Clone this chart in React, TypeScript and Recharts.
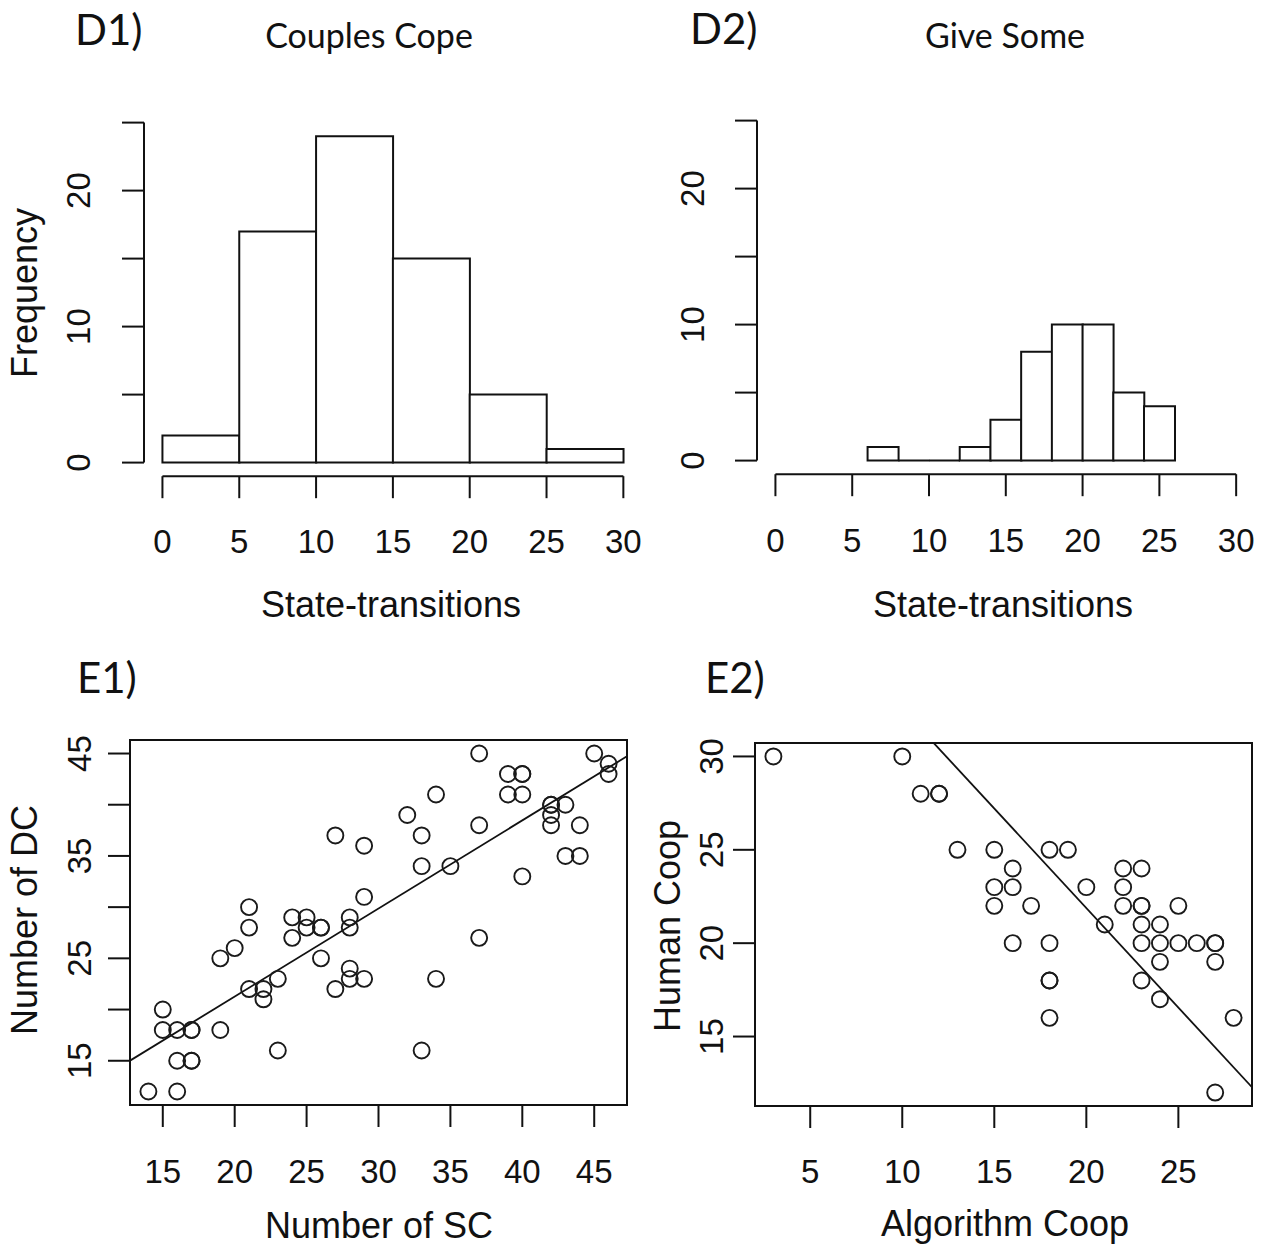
import React from "react";
import {
  ComposedChart,
  ScatterChart,
  Bar,
  Scatter,
  XAxis,
  YAxis,
  ReferenceLine,
  ReferenceArea,
} from "recharts";

const INK = "#111";
const AXIS_FONT = "'Liberation Sans', Arial, sans-serif";
const TITLE_FONT = "Lato, 'Open Sans', sans-serif";

// D1) Couples Cope - state-transitions, bins of width 5
const d1Starts = [0, 5, 10, 15, 20, 25];
const d1Bins = ["0-5", "5-10", "10-15", "15-20", "20-25", "25-30"];
const d1Counts = [2, 17, 24, 15, 5, 1];

// D2) Give Some - bins of width 2 (null = no bar)
const d2Starts = [0, 2, 4, 6, 8, 10, 12, 14, 16, 18, 20, 22, 24, 26, 28];
const d2Bins = [
  "0-2", "2-4", "4-6", "6-8", "8-10", "10-12", "12-14", "14-16",
  "16-18", "18-20", "20-22", "22-24", "24-26", "26-28", "28-30",
];
const d2Counts: (number | null)[] = [
  null, null, null, 1, 0, 0, 1, 3, 8, 10, 10, 5, 4, null, null,
];

const histXTicks = [0, 5, 10, 15, 20, 25, 30];
const histYTicks = [0, 5, 10, 15, 20, 25];
const histYLabels = [0, 10, 20];

// E1) Number of SC vs Number of DC
const e1Sc = [
  14, 16, 16, 17, 17, 15, 15, 16, 17, 17, 19, 19, 20, 21, 21, 21, 22, 22, 23, 23,
  24, 24, 25, 25, 26, 26, 26, 27, 27, 28, 28, 28, 28, 29, 29, 29, 32, 33, 33, 33,
  34, 34, 35, 37, 37, 37, 39, 39, 40, 40, 40, 40, 42, 42, 42, 42, 43, 43, 44, 44,
  45, 46, 46,
];
const e1Dc = [
  12, 12, 15, 15, 15, 20, 18, 18, 18, 18, 18, 25, 26, 30, 28, 22, 22, 21, 23, 16,
  29, 27, 29, 28, 28, 28, 25, 37, 22, 29, 28, 24, 23, 36, 31, 23, 39, 37, 34, 16,
  41, 23, 34, 45, 38, 27, 43, 41, 43, 43, 41, 33, 40, 40, 39, 38, 40, 35, 38, 35,
  45, 44, 43,
];
const e1XTicks = [15, 20, 25, 30, 35, 40, 45];
const e1YTicks = [15, 20, 25, 30, 35, 40, 45];
const e1YLabels = [15, 25, 35, 45];
const e1Fit = { intercept: 4.07, slope: 0.86 };

// E2) Algorithm Coop vs Human Coop
const e2Algo = [
  3, 10, 11, 12, 12, 13, 15, 15, 15, 16, 16, 16, 17, 18, 19, 18, 18, 18, 18, 20,
  21, 22, 22, 22, 23, 23, 23, 23, 23, 23, 24, 24, 24, 24, 25, 25, 26, 27, 27, 27,
  27, 28,
];
const e2Human = [
  30, 30, 28, 28, 28, 25, 25, 23, 22, 24, 23, 20, 22, 25, 25, 20, 18, 18, 16, 23,
  21, 24, 23, 22, 24, 22, 22, 21, 20, 18, 21, 20, 19, 17, 22, 20, 20, 20, 20, 19,
  12, 16,
];
const e2XTicks = [5, 10, 15, 20, 25];
const e2YTicks = [15, 20, 25, 30];
const e2YLabels = [15, 20, 25, 30];
const e2Fit = { intercept: 43.2, slope: -1.066 };

type Box = { left: number; top: number; width: number; height: number };

const Y_W = 140;
const X_H = 100;
const PAD = 14;
const TICK = 22;

const tickLineStyle = { stroke: INK, strokeWidth: 2 };
const xTickStyle = { fontSize: 33, fill: INK, fontFamily: AXIS_FONT };

const RotatedTick = (props: any) => {
  const { x, y, payload, show } = props;
  if (!show.includes(payload.value)) return <g />;
  return (
    <text
      x={x}
      y={y}
      transform={`rotate(-90 ${x} ${y})`}
      textAnchor="middle"
      fontSize={33}
      fontFamily={AXIS_FONT}
      fill={INK}
    >
      {payload.value}
    </text>
  );
};

const HistRect = (p: any) => {
  if (p.payload == null || p.payload.count == null) return <g />;
  const { x, y, width, height } = p;
  return (
    <path
      d={`M${x},${y}h${width}v${height}h${-width}Z`}
      fill="#fff"
      stroke={INK}
      strokeWidth={2}
    />
  );
};

const OpenCircle = (p: any) => (
  <circle cx={p.cx} cy={p.cy} r={8} fill="none" stroke="#1a1a1a" strokeWidth={1.9} />
);

function Histogram(props: {
  box: Box;
  starts: number[];
  bins: string[];
  counts: (number | null)[];
  xTickGap: number;
  yTickGap: number;
}) {
  const { box, starts, bins, counts, xTickGap, yTickGap } = props;
  const data = bins.map((bin, i) => ({ bin, start: starts[i], count: counts[i] }));
  // R extends the axis range 4% beyond the breaks / ylim
  const xDomain = [-1.2, 31.2];
  const yDomain = [-1, 26];
  const binPad = (box.width * 1.2) / 32.4;
  return (
    <div style={{ position: "absolute", left: box.left - Y_W, top: box.top - PAD }}>
      <ComposedChart
        width={Y_W + box.width + PAD}
        height={PAD + box.height + X_H}
        data={data}
        margin={{ top: PAD, right: PAD, bottom: 0, left: 0 }}
        barCategoryGap={0}
        barGap={0}
      >
        <XAxis
          xAxisId="bins"
          dataKey="bin"
          type="category"
          orientation="top"
          height={0}
          hide
          padding={{ left: binPad, right: binPad }}
        />
        <XAxis
          xAxisId="num"
          dataKey="start"
          type="number"
          domain={xDomain}
          allowDataOverflow
          ticks={histXTicks}
          interval={0}
          axisLine={false}
          tickSize={TICK}
          tickMargin={xTickGap}
          tickLine={tickLineStyle}
          tick={xTickStyle}
          height={X_H}
        />
        <YAxis
          yAxisId="f"
          type="number"
          domain={yDomain}
          allowDataOverflow
          ticks={histYTicks}
          interval={0}
          axisLine={false}
          tickSize={TICK}
          tickMargin={yTickGap}
          tickLine={tickLineStyle}
          tick={<RotatedTick show={histYLabels} />}
          width={Y_W}
        />
        <Bar
          xAxisId="bins"
          yAxisId="f"
          dataKey="count"
          isAnimationActive={false}
          shape={HistRect}
        />
        <ReferenceLine
          xAxisId="num"
          yAxisId="f"
          segment={[
            { x: xDomain[0], y: histYTicks[0] },
            { x: xDomain[0], y: histYTicks[histYTicks.length - 1] },
          ]}
          stroke={INK}
          strokeWidth={2}
          ifOverflow="visible"
        />
        <ReferenceLine
          xAxisId="num"
          yAxisId="f"
          segment={[
            { x: histXTicks[0], y: yDomain[0] },
            { x: histXTicks[histXTicks.length - 1], y: yDomain[0] },
          ]}
          stroke={INK}
          strokeWidth={2}
          ifOverflow="visible"
        />
      </ComposedChart>
    </div>
  );
}

function ScatterPanel(props: {
  box: Box;
  xs: number[];
  ys: number[];
  xDomain: number[];
  yDomain: number[];
  xTicks: number[];
  yTicks: number[];
  yLabels: number[];
  fit: { intercept: number; slope: number };
  xTickGap: number;
  yTickGap: number;
}) {
  const { box, xs, ys, xDomain, yDomain, xTicks, yTicks, yLabels, fit, xTickGap, yTickGap } =
    props;
  const data = xs.map((x, i) => ({ x, y: ys[i] }));
  return (
    <div style={{ position: "absolute", left: box.left - Y_W, top: box.top - PAD }}>
      <ScatterChart
        width={Y_W + box.width + PAD}
        height={PAD + box.height + X_H}
        margin={{ top: PAD, right: PAD, bottom: 0, left: 0 }}
      >
        <XAxis
          type="number"
          dataKey="x"
          domain={xDomain}
          allowDataOverflow
          ticks={xTicks}
          interval={0}
          axisLine={false}
          tickSize={TICK}
          tickMargin={xTickGap}
          tickLine={tickLineStyle}
          tick={xTickStyle}
          height={X_H}
        />
        <YAxis
          type="number"
          dataKey="y"
          domain={yDomain}
          allowDataOverflow
          ticks={yTicks}
          interval={0}
          axisLine={false}
          tickSize={TICK}
          tickMargin={yTickGap}
          tickLine={tickLineStyle}
          tick={<RotatedTick show={yLabels} />}
          width={Y_W}
        />
        <ReferenceArea
          x1={xDomain[0]}
          x2={xDomain[1]}
          y1={yDomain[0]}
          y2={yDomain[1]}
          fill="none"
          stroke={INK}
          strokeWidth={2}
          ifOverflow="visible"
        />
        <ReferenceLine
          segment={[
            { x: xDomain[0], y: fit.intercept + fit.slope * xDomain[0] },
            { x: xDomain[1], y: fit.intercept + fit.slope * xDomain[1] },
          ]}
          stroke={INK}
          strokeWidth={1.8}
          ifOverflow="hidden"
        />
        <Scatter data={data} shape={OpenCircle} isAnimationActive={false} />
      </ScatterChart>
    </div>
  );
}

const labelText = { fontFamily: AXIS_FONT, fontSize: 36, fill: INK };
const titleText = { fontFamily: TITLE_FONT, fill: INK };

export default function App() {
  return (
    <div
      style={{
        position: "absolute",
        left: 0,
        top: 0,
        width: 1268,
        height: 1244,
        background: "#fff",
        overflow: "hidden",
      }}
    >
      <Histogram
        box={{ left: 143.6, top: 109.4, width: 497.8, height: 367.2 }}
        starts={d1Starts}
        bins={d1Bins}
        counts={d1Counts}
        xTickGap={31}
        yTickGap={32}
      />
      <Histogram
        box={{ left: 756.6, top: 107.4, width: 497.6, height: 367.2 }}
        starts={d2Starts}
        bins={d2Bins}
        counts={d2Counts}
        xTickGap={32}
        yTickGap={31}
      />
      <ScatterPanel
        box={{ left: 130, top: 740, width: 497, height: 365 }}
        xs={e1Sc}
        ys={e1Dc}
        xDomain={[12.72, 47.28]}
        yDomain={[10.68, 46.32]}
        xTicks={e1XTicks}
        yTicks={e1YTicks}
        yLabels={e1YLabels}
        fit={e1Fit}
        xTickGap={33}
        yTickGap={17}
      />
      <ScatterPanel
        box={{ left: 755, top: 743, width: 497, height: 363 }}
        xs={e2Algo}
        ys={e2Human}
        xDomain={[2, 29]}
        yDomain={[11.28, 30.72]}
        xTicks={e2XTicks}
        yTicks={e2YTicks}
        yLabels={e2YLabels}
        fit={e2Fit}
        xTickGap={32}
        yTickGap={10}
      />

      <svg
        width={1268}
        height={1244}
        style={{ position: "absolute", left: 0, top: 0, pointerEvents: "none" }}
      >
        <text x={75} y={45} fontSize={42} {...titleText}>D1)</text>
        <text x={369} y={48} fontSize={34} textAnchor="middle" {...titleText}>
          Couples Cope
        </text>
        <text x={690} y={44} fontSize={42} {...titleText}>D2)</text>
        <text x={1005} y={48} fontSize={34} textAnchor="middle" {...titleText}>
          Give Some
        </text>
        <text x={77} y={693} fontSize={42} {...titleText}>E1)</text>
        <text x={705} y={693} fontSize={42} {...titleText}>E2)</text>

        <text x={391} y={617} textAnchor="middle" {...labelText}>State-transitions</text>
        <text x={1003} y={617} textAnchor="middle" {...labelText}>State-transitions</text>
        <text x={379} y={1238} textAnchor="middle" {...labelText}>Number of SC</text>
        <text x={1005} y={1236} textAnchor="middle" {...labelText}>Algorithm Coop</text>
        <text x={37} y={293} textAnchor="middle" transform="rotate(-90 37 293)" {...labelText}>
          Frequency
        </text>
        <text x={37} y={920} textAnchor="middle" transform="rotate(-90 37 920)" {...labelText}>
          Number of DC
        </text>
        <text x={680} y={926} textAnchor="middle" transform="rotate(-90 680 926)" {...labelText}>
          Human Coop
        </text>
      </svg>
    </div>
  );
}
